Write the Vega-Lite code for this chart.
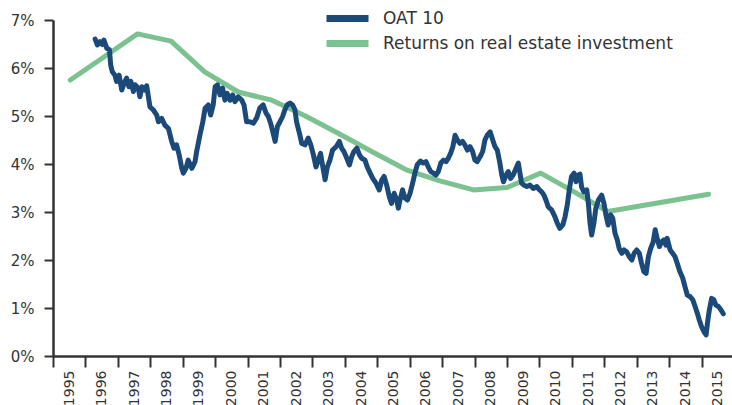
{
  "$schema": "https://vega.github.io/schema/vega-lite/v6.json",
  "autosize": {"type": "none"},
  "padding": {"left": 53, "top": 20, "right": 0, "bottom": 49},
  "width": 681,
  "height": 336,
  "background": "white",
  "config": {"view": {"stroke": null}, "font": "DejaVu Sans"},
  "datasets": {
    "rei": [
      {"year": 1995, "v": 5.75}, {"year": 1996, "v": 6.23}, {"year": 1997, "v": 6.71},
      {"year": 1998, "v": 6.56}, {"year": 1999, "v": 5.92}, {"year": 2000, "v": 5.5},
      {"year": 2001, "v": 5.33}, {"year": 2002, "v": 5.0}, {"year": 2003, "v": 4.63},
      {"year": 2004, "v": 4.25}, {"year": 2005, "v": 3.88}, {"year": 2006, "v": 3.65},
      {"year": 2007, "v": 3.46}, {"year": 2008, "v": 3.51}, {"year": 2009, "v": 3.81},
      {"year": 2010, "v": 3.42}, {"year": 2011, "v": 3.01}, {"year": 2012, "v": 3.13},
      {"year": 2013, "v": 3.25}, {"year": 2014, "v": 3.37}
    ],
    "oat": [
      {"t":1995.80,"v":6.60},{"t":1995.87,"v":6.48},{"t":1995.95,"v":6.55},{"t":1996.03,"v":6.49},{"t":1996.07,"v":6.58},
      {"t":1996.16,"v":6.41},{"t":1996.24,"v":6.38},{"t":1996.28,"v":6.06},{"t":1996.33,"v":5.92},{"t":1996.41,"v":5.85},
      {"t":1996.46,"v":5.72},{"t":1996.54,"v":5.85},{"t":1996.62,"v":5.54},{"t":1996.69,"v":5.68},{"t":1996.77,"v":5.79},
      {"t":1996.84,"v":5.61},{"t":1996.90,"v":5.72},{"t":1996.98,"v":5.51},{"t":1997.03,"v":5.65},{"t":1997.13,"v":5.58},
      {"t":1997.18,"v":5.40},{"t":1997.24,"v":5.61},{"t":1997.32,"v":5.54},{"t":1997.39,"v":5.63},{"t":1997.49,"v":5.19},
      {"t":1997.59,"v":5.13},{"t":1997.70,"v":5.02},{"t":1997.75,"v":4.88},{"t":1997.85,"v":4.95},{"t":1997.95,"v":4.81},
      {"t":1998.06,"v":4.74},{"t":1998.16,"v":4.47},{"t":1998.23,"v":4.33},{"t":1998.31,"v":4.40},{"t":1998.39,"v":4.19},
      {"t":1998.47,"v":3.91},{"t":1998.52,"v":3.81},{"t":1998.60,"v":3.91},{"t":1998.67,"v":4.08},{"t":1998.78,"v":3.91},
      {"t":1998.88,"v":4.05},{"t":1998.93,"v":4.26},{"t":1999.03,"v":4.60},{"t":1999.12,"v":4.88},{"t":1999.19,"v":5.16},
      {"t":1999.29,"v":5.23},{"t":1999.36,"v":5.02},{"t":1999.44,"v":5.23},{"t":1999.50,"v":5.61},{"t":1999.57,"v":5.65},
      {"t":1999.65,"v":5.44},{"t":1999.73,"v":5.58},{"t":1999.80,"v":5.33},{"t":1999.87,"v":5.47},{"t":1999.96,"v":5.33},
      {"t":2000.04,"v":5.44},{"t":2000.11,"v":5.30},{"t":2000.21,"v":5.40},{"t":2000.32,"v":5.33},{"t":2000.39,"v":5.23},
      {"t":2000.47,"v":4.88},{"t":2000.57,"v":4.88},{"t":2000.68,"v":4.85},{"t":2000.78,"v":4.96},{"t":2000.88,"v":5.17},
      {"t":2000.98,"v":5.23},{"t":2001.07,"v":5.06},{"t":2001.14,"v":4.99},{"t":2001.21,"v":4.85},{"t":2001.29,"v":4.64},
      {"t":2001.35,"v":4.47},{"t":2001.42,"v":4.78},{"t":2001.50,"v":4.88},{"t":2001.58,"v":4.99},{"t":2001.65,"v":5.13},
      {"t":2001.72,"v":5.23},{"t":2001.81,"v":5.27},{"t":2001.89,"v":5.23},{"t":2001.96,"v":5.13},{"t":2002.01,"v":4.88},
      {"t":2002.10,"v":4.64},{"t":2002.17,"v":4.43},{"t":2002.27,"v":4.40},{"t":2002.37,"v":4.54},{"t":2002.45,"v":4.40},
      {"t":2002.53,"v":4.19},{"t":2002.61,"v":3.94},{"t":2002.68,"v":4.08},{"t":2002.75,"v":4.22},{"t":2002.82,"v":3.94},
      {"t":2002.89,"v":3.67},{"t":2002.96,"v":3.94},{"t":2003.04,"v":4.08},{"t":2003.12,"v":4.29},{"t":2003.23,"v":4.36},
      {"t":2003.33,"v":4.47},{"t":2003.40,"v":4.33},{"t":2003.47,"v":4.26},{"t":2003.56,"v":4.12},{"t":2003.64,"v":3.98},
      {"t":2003.71,"v":4.15},{"t":2003.78,"v":4.26},{"t":2003.87,"v":4.33},{"t":2003.95,"v":4.19},{"t":2004.02,"v":4.12},
      {"t":2004.12,"v":4.08},{"t":2004.19,"v":3.94},{"t":2004.28,"v":3.81},{"t":2004.36,"v":3.70},{"t":2004.46,"v":3.60},
      {"t":2004.56,"v":3.46},{"t":2004.64,"v":3.67},{"t":2004.71,"v":3.74},{"t":2004.79,"v":3.56},{"t":2004.87,"v":3.32},
      {"t":2004.94,"v":3.18},{"t":2005.02,"v":3.39},{"t":2005.10,"v":3.25},{"t":2005.15,"v":3.08},{"t":2005.20,"v":3.25},
      {"t":2005.28,"v":3.46},{"t":2005.35,"v":3.29},{"t":2005.43,"v":3.25},{"t":2005.51,"v":3.39},{"t":2005.59,"v":3.60},
      {"t":2005.66,"v":3.81},{"t":2005.73,"v":3.98},{"t":2005.83,"v":4.06},{"t":2005.92,"v":4.02},{"t":2006.00,"v":4.05},
      {"t":2006.07,"v":3.94},{"t":2006.15,"v":3.84},{"t":2006.23,"v":3.81},{"t":2006.31,"v":3.77},{"t":2006.38,"v":3.84},
      {"t":2006.46,"v":4.02},{"t":2006.54,"v":4.08},{"t":2006.62,"v":4.05},{"t":2006.69,"v":4.12},{"t":2006.76,"v":4.22},
      {"t":2006.83,"v":4.36},{"t":2006.90,"v":4.60},{"t":2006.97,"v":4.50},{"t":2007.05,"v":4.43},{"t":2007.13,"v":4.47},
      {"t":2007.20,"v":4.40},{"t":2007.28,"v":4.29},{"t":2007.36,"v":4.36},{"t":2007.44,"v":4.26},{"t":2007.51,"v":4.08},
      {"t":2007.58,"v":4.05},{"t":2007.67,"v":4.15},{"t":2007.75,"v":4.26},{"t":2007.82,"v":4.50},{"t":2007.89,"v":4.60},
      {"t":2007.98,"v":4.67},{"t":2008.06,"v":4.50},{"t":2008.13,"v":4.36},{"t":2008.20,"v":4.29},{"t":2008.28,"v":4.02},
      {"t":2008.34,"v":3.77},{"t":2008.39,"v":3.63},{"t":2008.47,"v":3.77},{"t":2008.54,"v":3.84},{"t":2008.61,"v":3.70},
      {"t":2008.69,"v":3.77},{"t":2008.78,"v":3.91},{"t":2008.85,"v":4.02},{"t":2008.90,"v":3.81},{"t":2008.95,"v":3.60},
      {"t":2009.02,"v":3.56},{"t":2009.11,"v":3.53},{"t":2009.21,"v":3.56},{"t":2009.31,"v":3.49},{"t":2009.42,"v":3.53},
      {"t":2009.50,"v":3.46},{"t":2009.57,"v":3.42},{"t":2009.64,"v":3.35},{"t":2009.70,"v":3.25},{"t":2009.77,"v":3.11},
      {"t":2009.88,"v":3.04},{"t":2009.98,"v":2.90},{"t":2010.05,"v":2.77},{"t":2010.13,"v":2.66},{"t":2010.22,"v":2.73},
      {"t":2010.29,"v":2.90},{"t":2010.36,"v":3.15},{"t":2010.42,"v":3.46},{"t":2010.49,"v":3.74},{"t":2010.57,"v":3.81},
      {"t":2010.63,"v":3.63},{"t":2010.70,"v":3.77},{"t":2010.75,"v":3.79},{"t":2010.80,"v":3.52},{"t":2010.87,"v":3.42},
      {"t":2010.96,"v":3.46},{"t":2011.01,"v":3.18},{"t":2011.06,"v":2.77},{"t":2011.11,"v":2.52},{"t":2011.18,"v":2.77},
      {"t":2011.24,"v":3.08},{"t":2011.32,"v":3.25},{"t":2011.42,"v":3.35},{"t":2011.49,"v":3.18},{"t":2011.55,"v":2.94},
      {"t":2011.62,"v":2.73},{"t":2011.70,"v":2.94},{"t":2011.76,"v":2.87},{"t":2011.83,"v":2.56},{"t":2011.90,"v":2.42},
      {"t":2011.96,"v":2.24},{"t":2012.04,"v":2.14},{"t":2012.11,"v":2.21},{"t":2012.19,"v":2.17},{"t":2012.27,"v":2.07},
      {"t":2012.35,"v":2.00},{"t":2012.42,"v":2.14},{"t":2012.50,"v":2.21},{"t":2012.58,"v":2.14},{"t":2012.65,"v":1.93},
      {"t":2012.72,"v":1.76},{"t":2012.79,"v":1.72},{"t":2012.86,"v":2.07},{"t":2012.93,"v":2.24},{"t":2013.01,"v":2.38},
      {"t":2013.07,"v":2.63},{"t":2013.13,"v":2.45},{"t":2013.20,"v":2.28},{"t":2013.27,"v":2.38},{"t":2013.34,"v":2.42},
      {"t":2013.40,"v":2.31},{"t":2013.44,"v":2.45},{"t":2013.53,"v":2.21},{"t":2013.61,"v":2.14},{"t":2013.68,"v":2.07},
      {"t":2013.75,"v":1.93},{"t":2013.83,"v":1.76},{"t":2013.92,"v":1.62},{"t":2013.99,"v":1.44},{"t":2014.06,"v":1.27},
      {"t":2014.14,"v":1.24},{"t":2014.23,"v":1.17},{"t":2014.30,"v":1.03},{"t":2014.37,"v":0.89},{"t":2014.43,"v":0.75},
      {"t":2014.50,"v":0.61},{"t":2014.57,"v":0.51},{"t":2014.64,"v":0.44},{"t":2014.68,"v":0.68},{"t":2014.74,"v":0.96},
      {"t":2014.81,"v":1.20},{"t":2014.88,"v":1.17},{"t":2014.94,"v":1.06},{"t":2015.02,"v":1.03},{"t":2015.09,"v":0.97},
      {"t":2015.17,"v":0.88}
    ]
  },
  "layer": [
    {
      "data": {"name": "rei"},
      "transform": [{"calculate": "'Returns on real estate investment'", "as": "series"}],
      "mark": {"type": "line", "strokeWidth": 5, "strokeCap": "round", "strokeJoin": "round"},
      "encoding": {
        "x": {"field": "year", "type": "quantitative", "scale": {"domain": [1994.485, 2014.756], "nice": false, "zero": false}, "axis": null},
        "y": {"field": "v", "type": "quantitative", "scale": {"domain": [0, 7], "nice": false},
          "axis": {"title": null, "values": [0,1,2,3,4,5,6,7], "labelExpr": "datum.value + '%'", "labelFontSize": 15, "labelColor": "#333333", "tickSize": 9, "tickWidth": 2, "tickColor": "#333333", "domainColor": "#333333", "domainWidth": 2.5, "labelPadding": 10, "grid": false, "labelFlush": false}},
        "color": {"field": "series", "type": "nominal", "scale": {"domain": ["OAT 10", "Returns on real estate investment"], "range": ["#1b4a7a", "#7cc290"]},
          "legend": {"orient": "none", "legendX": 284, "legendY": -12, "title": null, "padding": 0, "symbolType": "M-3,0H3", "symbolSize": 196, "symbolStrokeWidth": 7, "labelFontSize": 17, "labelColor": "#333333", "labelOffset": 25, "rowPadding": -8, "labelLimit": 400}}
      }
    },
    {
      "data": {"name": "oat"},
      "transform": [{"calculate": "'OAT 10'", "as": "series"}],
      "mark": {"type": "line", "strokeWidth": 5, "strokeCap": "round", "strokeJoin": "round"},
      "encoding": {
        "x": {"field": "t", "type": "quantitative", "scale": {"domain": [1994.5, 2015.5], "nice": false, "zero": false},
          "axis": {"title": null, "values": [1995,1996,1997,1998,1999,2000,2001,2002,2003,2004,2005,2006,2007,2008,2009,2010,2011,2012,2013,2014,2015], "format": "d", "labelAngle": 270, "labelFontSize": 14, "labelColor": "#333333", "tickOffset": -16.2, "labelOffset": 16.2, "tickSize": 11, "tickWidth": 2, "tickColor": "#333333", "domainColor": "#333333", "domainWidth": 2.5, "labelPadding": 3, "grid": false, "labelOverlap": false, "labelFlush": false, "labelBound": false}},
        "y": {"field": "v", "type": "quantitative", "scale": {"domain": [0, 7], "nice": false},
          "axis": {"title": null, "values": [0,1,2,3,4,5,6,7], "labelExpr": "datum.value + '%'", "labelFontSize": 15, "labelColor": "#333333", "tickSize": 9, "tickWidth": 2, "tickColor": "#333333", "domainColor": "#333333", "domainWidth": 2.5, "labelPadding": 10, "grid": false, "labelFlush": false}},
        "color": {"field": "series", "type": "nominal"}
      }
    }
  ],
  "resolve": {"scale": {"x": "independent"}}
}
